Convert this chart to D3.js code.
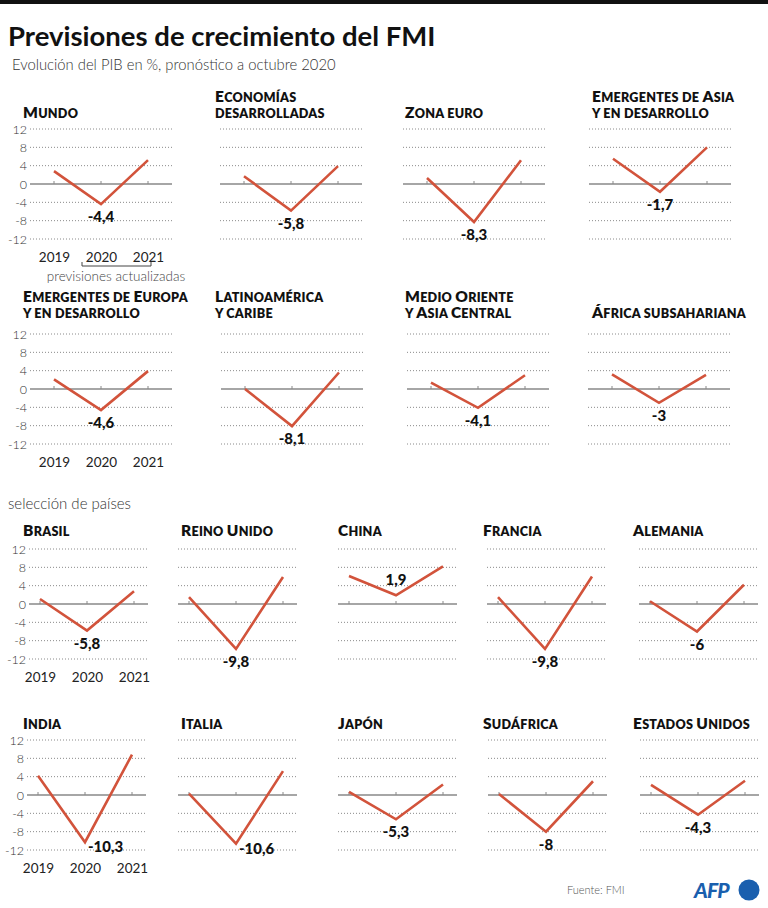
<!DOCTYPE html>
<html>
<head>
<meta charset="utf-8">
<script src="https://cdn.jsdelivr.net/npm/d3@7"></script>
<style>
  html, body { margin: 0; padding: 0; background: #fff; }
  svg { display: block; }
  text { font-family: Lato, "Noto Sans", sans-serif; }
</style>
</head>
<body>
<svg id="chart" width="768" height="908"></svg>
<script>
// ---------- data ----------
const years = ["2019", "2020", "2021"];
const yTickValues = [12, 8, 4, 0, -4, -8, -12];

const regionTitles = [
  ["Mundo"],
  ["Economías", "desarrolladas"],
  ["Zona euro"],
  ["Emergentes de Asia", "y en desarrollo"],
  ["Emergentes de Europa", "y en desarrollo"],
  ["Latinoamérica", "y caribe"],
  ["Medio Oriente", "y Asia Central"],
  ["África subsahariana"]
];
const regionValues = [
  [2.8, -4.4, 5.2],
  [1.7, -5.8, 3.9],
  [1.3, -8.3, 5.2],
  [5.5, -1.7, 8.0],
  [2.1, -4.6, 3.9],
  [0.0, -8.1, 3.6],
  [1.4, -4.1, 3.0],
  [3.2, -3.0, 3.1]
];
const regionLabels = ["-4,4", "-5,8", "-8,3", "-1,7", "-4,6", "-8,1", "-4,1", "-3"];

const countryTitles = [
  ["Brasil"], ["Reino Unido"], ["China"], ["Francia"], ["Alemania"],
  ["India"], ["Italia"], ["Japón"], ["Sudáfrica"], ["Estados Unidos"]
];
const countryValues = [
  [1.1, -5.8, 2.8],
  [1.5, -9.8, 5.9],
  [6.1, 1.9, 8.2],
  [1.5, -9.8, 6.0],
  [0.6, -6.0, 4.2],
  [4.2, -10.3, 8.8],
  [0.3, -10.6, 5.2],
  [0.7, -5.3, 2.3],
  [0.2, -8.0, 3.0],
  [2.2, -4.3, 3.1]
];
const countryLabels = ["-5,8", "-9,8", "1,9", "-9,8", "-6", "-10,3", "-10,6", "-5,3", "-8", "-4,3"];

// ---------- layout (not data) ----------
const rowTops = [129, 334, 549, 740];
const rowTitleOffset = [11, 16, 13, 11];
const rowFirstX = [
  [54, 244, 427, 613],
  [54, 245, 431, 612],
  [40, 189, 349, 498, 650],
  [38, 189, 349, 499, 651]
];
const rowTitleX = [
  [23, 215, 405, 592],
  [23, 215, 405, 592],
  [23, 181, 338, 483, 633],
  [23, 181, 338, 483, 633]
];
const countryLabelPos = ["below", "below", "above", "below", "below",
                         "right", "right", "below", "below", "below"];

const LINE = "#d2533b";
const svg = d3.select("#chart");

// top bar
svg.append("rect").attr("x", 0).attr("y", 0).attr("width", 768).attr("height", 4).attr("fill", "#111");

svg.append("text").attr("x", 8).attr("y", 46)
  .attr("font-size", 27.5).attr("font-weight", 700).attr("fill", "#111")
  .text("Previsiones de crecimiento del FMI");
svg.append("text").attr("x", 12).attr("y", 70)
  .attr("font-size", 14.8).attr("font-weight", 300).attr("fill", "#333")
  .text("Evolución del PIB en %, pronóstico a octubre 2020");
svg.append("text").attr("x", 8).attr("y", 509)
  .attr("font-size", 15).attr("font-weight", 300).attr("fill", "#333")
  .text("selección de países");

// manual small caps
function smallCaps(textSel, str) {
  const runs = [];
  for (const ch of str) {
    const upper = ch !== ch.toLowerCase();
    const last = runs[runs.length - 1];
    if (last && last.upper === upper) last.s += ch;
    else runs.push({ upper, s: ch });
  }
  runs.forEach(r => {
    textSel.append("tspan")
      .attr("font-size", r.upper ? 15.5 : 12.6)
      .text(r.s.toUpperCase());
  });
}

function panel(opts) {
  const { title, values, label, labelPos, top, x0, first, wide, bracket, titleX, titleOff } = opts;
  const x = d3.scalePoint().domain(years).range([x0, x0 + 94]);
  const y = d3.scaleLinear().domain([-12, 12]).range([top + 110, top]);
  const left = wide ? x0 - 24 : x0 - 11;
  const right = wide ? x0 + 94 + 24 : x0 + 94 + 14;
  const g = svg.append("g");

  // title (bottom aligned)
  title.forEach((line, i) => {
    const t = g.append("text")
      .attr("x", titleX)
      .attr("y", top - titleOff - (title.length - 1 - i) * 16)
      .attr("font-weight", 800).attr("fill", "#111").attr("letter-spacing", 0.25);
    smallCaps(t, line);
  });

  // grid
  yTickValues.filter(v => v !== 0).forEach(v => {
    g.append("line").attr("x1", left).attr("x2", right)
      .attr("y1", y(v)).attr("y2", y(v))
      .attr("stroke", "#8a8a8a").attr("stroke-width", 1)
      .attr("stroke-dasharray", "1,2");
  });
  g.append("line").attr("x1", left).attr("x2", right)
    .attr("y1", y(0)).attr("y2", y(0))
    .attr("stroke", "#888").attr("stroke-width", 1.5);
  years.forEach(yr => {
    g.append("line").attr("x1", x(yr)).attr("x2", x(yr))
      .attr("y1", y(0)).attr("y2", y(0) - 3)
      .attr("stroke", "#888").attr("stroke-width", 1);
  });

  if (first) {
    const ax = d3.axisLeft(y).tickValues(yTickValues).tickSize(0).tickPadding(0)
      .tickFormat(d => d3.format("d")(d).replace("−", "-"));
    const axg = g.append("g").attr("transform", `translate(${left - 3},0)`).call(ax);
    axg.select(".domain").remove();
    axg.selectAll("text").attr("font-size", 12.5).attr("font-weight", 300)
      .attr("fill", "#333").attr("font-family", "Lato, sans-serif");

    const xa = d3.axisBottom(x).tickSize(0).tickPadding(0);
    const xg = g.append("g").attr("transform", `translate(0,${top + 110 + 13})`).call(xa);
    xg.select(".domain").remove();
    xg.selectAll("text").attr("font-size", 13.5).attr("font-weight", 400)
      .attr("fill", "#222").attr("font-family", "Lato, sans-serif");
  }

  if (bracket) {
    const by = top + 110 + 27;
    const bx1 = x("2020") - 19, bx2 = x("2021") + 3;
    g.append("path")
      .attr("d", `M${bx1},${by - 4}V${by}H${bx2}V${by - 4}`)
      .attr("fill", "none").attr("stroke", "#444").attr("stroke-width", 1);
    g.append("text").attr("x", (x0 + 94 + 34 + x0 - 4) / 2).attr("y", by + 15)
      .attr("text-anchor", "middle").attr("font-size", 13.5).attr("font-weight", 300)
      .attr("fill", "#444").text("previsiones actualizadas");
  }

  // line
  const line = d3.line().x((d, i) => x(years[i])).y(d => y(d));
  g.append("path").datum(values).attr("d", line)
    .attr("fill", "none").attr("stroke", LINE).attr("stroke-width", 2.6)
    .attr("stroke-linejoin", "miter").attr("stroke-linecap", "butt");

  // label at 2020
  const px = x("2020"), py = y(values[1]);
  const lt = g.append("text").attr("font-size", 15).attr("font-weight", 900)
    .attr("fill", "#111").text(label);
  if (labelPos === "right") {
    lt.attr("x", px + 3).attr("y", py + 10).attr("text-anchor", "start");
  } else if (labelPos === "above") {
    lt.attr("x", px).attr("y", py - 10).attr("text-anchor", "middle");
  } else {
    lt.attr("x", px).attr("y", py + 18).attr("text-anchor", "middle");
  }
}

regionTitles.forEach((t, i) => {
  const row = Math.floor(i / 4), col = i % 4;
  panel({
    title: t, values: regionValues[i], label: regionLabels[i], labelPos: "below",
    top: rowTops[row], x0: rowFirstX[row][col], first: col === 0, wide: true,
    bracket: i === 0, titleX: rowTitleX[row][col], titleOff: rowTitleOffset[row]
  });
});
countryTitles.forEach((t, i) => {
  const row = 2 + Math.floor(i / 5), col = i % 5;
  panel({
    title: t, values: countryValues[i], label: countryLabels[i], labelPos: countryLabelPos[i],
    top: rowTops[row], x0: rowFirstX[row][col], first: col === 0, wide: false,
    bracket: false, titleX: rowTitleX[row][col], titleOff: rowTitleOffset[row]
  });
});

// footer
svg.append("text").attr("x", 567).attr("y", 894).attr("font-size", 11)
  .attr("font-weight", 300).attr("fill", "#555").text("Fuente: FMI");
svg.append("text").attr("x", 694).attr("y", 898).attr("font-size", 21)
  .attr("font-weight", 900).attr("font-style", "italic").attr("fill", "#1a5fae")
  .attr("letter-spacing", -0.8).text("AFP");
svg.append("circle").attr("cx", 749).attr("cy", 890).attr("r", 10.5).attr("fill", "#1a5fae");
</script>
</body>
</html>
